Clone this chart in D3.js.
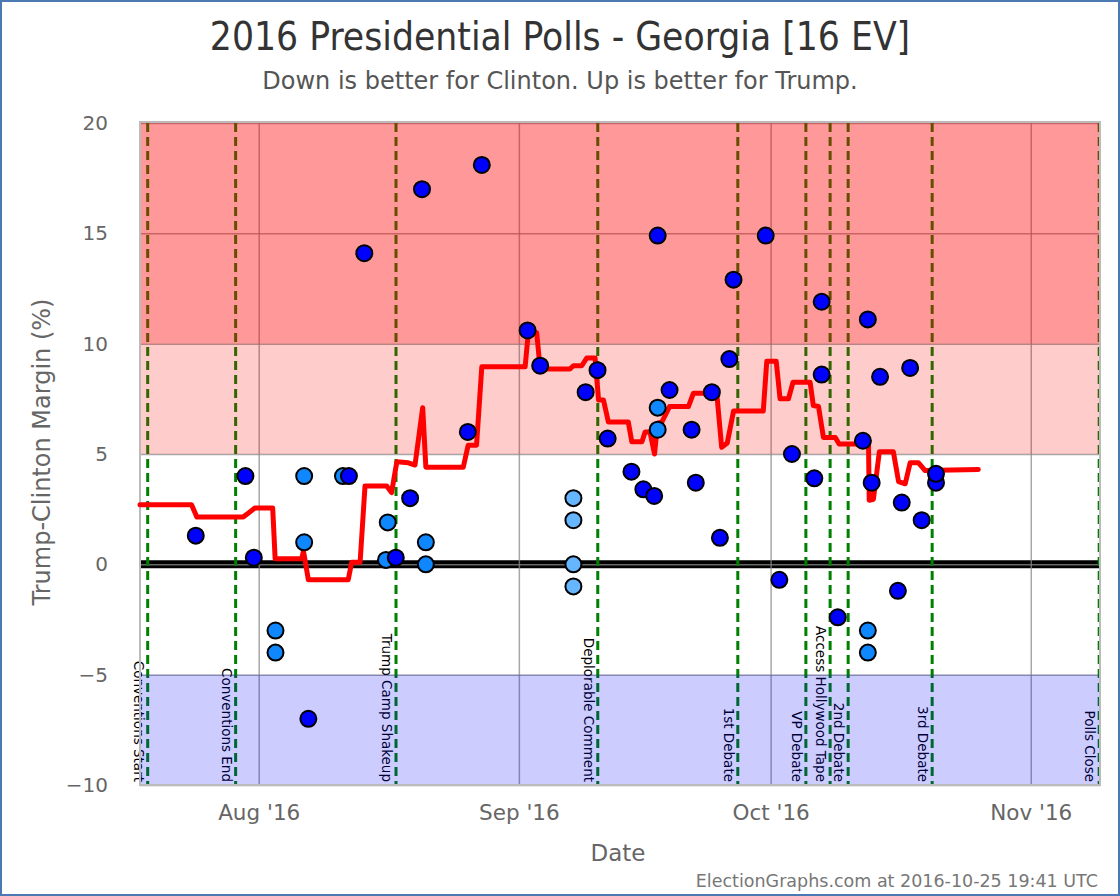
<!DOCTYPE html>
<html>
<head>
<meta charset="utf-8">
<script src="https://cdn.jsdelivr.net/npm/d3@7/dist/d3.min.js"></script>
<style>
  html, body { margin: 0; padding: 0; background: #fff; }
  svg text { font-family: "DejaVu Sans", sans-serif; }
  svg text.cond { font-family: "DejaVu Sans Condensed", "DejaVu Sans", sans-serif; font-stretch: condensed; }
</style>
</head>
<body>
<svg id="chart" width="1120" height="896"></svg>
<script>
// ---------------- DATA ----------------
const yTicks = [-10, -5, 0, 5, 10, 15, 20];
const xTickDates = ["2016-08-01T00:00Z", "2016-09-01T00:00Z", "2016-10-01T00:00Z", "2016-11-01T00:00Z"];
const xTickLabels = ["Aug '16", "Sep '16", "Oct '16", "Nov '16"];

const zoneLows  = [10, 5, -10];
const zoneHighs = [20, 10, -5];
const zoneNames = ["strongTrump", "weakTrump", "weakClinton"];

const eventNames = ["Conventions Start", "Conventions End", "Trump Camp Shakeup", "Deplorable Comment",
  "1st Debate", "VP Debate", "Access Hollywood Tape", "2nd Debate", "3rd Debate", "Polls Close"];
const eventDates = ["2016-07-18T18:30Z", "2016-07-29T06:00Z", "2016-08-17T08:40Z", "2016-09-10T09:40Z",
  "2016-09-27T02:10Z", "2016-10-05T04:50Z", "2016-10-08T02:10Z", "2016-10-10T05:45Z",
  "2016-10-20T06:00Z", "2016-11-09T03:40Z"];

const pollDates = [
  "2016-07-24T12:00Z", "2016-07-30T10:00Z", "2016-07-31T10:00Z", "2016-08-03T00:00Z", "2016-08-03T00:00Z",
  "2016-08-06T10:00Z", "2016-08-06T10:00Z", "2016-08-06T22:00Z", "2016-08-11T01:00Z", "2016-08-11T18:00Z",
  "2016-08-13T14:00Z", "2016-08-16T04:00Z", "2016-08-16T09:00Z", "2016-08-17T08:00Z", "2016-08-19T01:00Z",
  "2016-08-20T11:00Z", "2016-08-20T22:00Z", "2016-08-20T22:00Z", "2016-08-25T22:00Z", "2016-08-27T14:00Z",
  "2016-09-02T01:00Z", "2016-09-03T13:00Z", "2016-09-07T12:00Z", "2016-09-07T12:00Z", "2016-09-07T12:00Z",
  "2016-09-07T12:00Z", "2016-09-08T23:00Z", "2016-09-10T09:00Z", "2016-09-11T14:00Z", "2016-09-14T10:00Z",
  "2016-09-15T20:00Z", "2016-09-17T03:00Z", "2016-09-17T13:00Z", "2016-09-17T13:00Z", "2016-09-17T13:00Z",
  "2016-09-18T23:00Z", "2016-09-21T14:00Z", "2016-09-22T02:00Z", "2016-09-24T00:00Z", "2016-09-24T23:00Z",
  "2016-09-26T02:00Z", "2016-09-26T14:00Z", "2016-09-30T10:00Z", "2016-10-02T01:00Z", "2016-10-03T13:00Z",
  "2016-10-06T05:00Z", "2016-10-07T02:00Z", "2016-10-07T02:00Z", "2016-10-09T00:00Z", "2016-10-12T00:00Z",
  "2016-10-12T14:00Z", "2016-10-12T14:00Z", "2016-10-12T14:00Z", "2016-10-13T01:00Z", "2016-10-14T01:00Z",
  "2016-10-16T04:00Z", "2016-10-16T15:00Z", "2016-10-17T15:00Z", "2016-10-19T00:00Z", "2016-10-20T17:00Z",
  "2016-10-20T17:00Z"
];
const pollMargins = [
  1.3, 4.0, 0.3, -3, -4,
  4, 1, -7, 4, 4,
  14.1, 0.2, 1.9, 0.3, 3.0,
  17.0, 1.0, 0.0, 6.0, 18.1,
  10.6, 9.0, 3, 2, 0,
  -1, 7.8, 8.8, 5.7, 4.2,
  3.4, 3.1, 14.9, 7.1, 6.1,
  7.9, 6.1, 3.7, 7.8, 1.2,
  9.3, 12.9, 14.9, -0.7, 5.0,
  3.9, 11.9, 8.6, -2.4, 5.6,
  11.1, -3, -4, 3.7, 8.5,
  -1.2, 2.8, 8.9, 2.0, 3.7,
  4.1
];
// d = single poll, m = multi-candidate version, l = older/other variant
const pollKinds = [
  "d", "d", "d", "m", "m",
  "m", "m", "d", "m", "d",
  "d", "m", "m", "d", "d",
  "d", "m", "m", "d", "d",
  "d", "d", "l", "l", "l",
  "l", "d", "d", "d", "d",
  "d", "d", "d", "m", "m",
  "d", "d", "d", "d", "d",
  "d", "d", "d", "d", "d",
  "d", "d", "d", "d", "d",
  "d", "m", "m", "d", "d",
  "d", "d", "d", "d", "d",
  "d"
];

const avgDates = [
  "2016-07-17T20:30Z", "2016-07-24T00:00Z", "2016-07-24T15:00Z", "2016-07-30T04:00Z", "2016-07-30T17:00Z",
  "2016-07-31T13:00Z", "2016-08-02T16:00Z", "2016-08-02T23:00Z", "2016-08-06T03:00Z", "2016-08-06T08:00Z",
  "2016-08-06T22:00Z", "2016-08-11T16:00Z", "2016-08-12T02:00Z", "2016-08-13T02:00Z", "2016-08-13T16:00Z",
  "2016-08-16T06:00Z", "2016-08-16T20:00Z", "2016-08-17T11:00Z", "2016-08-18T20:00Z", "2016-08-19T15:00Z",
  "2016-08-20T13:00Z", "2016-08-20T22:00Z", "2016-08-25T09:00Z", "2016-08-25T23:00Z", "2016-08-26T23:00Z",
  "2016-08-27T14:00Z", "2016-09-01T18:00Z", "2016-09-02T03:00Z", "2016-09-03T03:00Z", "2016-09-03T13:00Z",
  "2016-09-07T02:00Z", "2016-09-07T12:00Z", "2016-09-08T12:00Z", "2016-09-09T02:00Z", "2016-09-10T02:00Z",
  "2016-09-10T12:00Z", "2016-09-11T02:00Z", "2016-09-11T16:00Z", "2016-09-14T01:00Z", "2016-09-14T11:00Z",
  "2016-09-15T16:00Z", "2016-09-16T01:00Z", "2016-09-16T15:00Z", "2016-09-17T04:00Z", "2016-09-17T13:00Z",
  "2016-09-18T01:00Z", "2016-09-18T23:00Z", "2016-09-21T05:00Z", "2016-09-21T19:00Z", "2016-09-24T14:00Z",
  "2016-09-25T04:00Z", "2016-09-25T20:00Z", "2016-09-26T14:00Z", "2016-09-30T03:00Z", "2016-09-30T13:00Z",
  "2016-10-01T16:00Z", "2016-10-02T03:00Z", "2016-10-03T03:00Z", "2016-10-03T16:00Z", "2016-10-05T17:00Z",
  "2016-10-06T02:00Z", "2016-10-06T17:00Z", "2016-10-07T07:00Z", "2016-10-08T17:00Z", "2016-10-09T04:00Z",
  "2016-10-12T16:00Z", "2016-10-12T18:00Z", "2016-10-13T06:00Z", "2016-10-13T23:00Z", "2016-10-15T15:00Z",
  "2016-10-16T06:00Z", "2016-10-17T01:00Z", "2016-10-17T15:00Z", "2016-10-18T15:00Z", "2016-10-19T10:00Z",
  "2016-10-25T18:00Z"
];
const avgMargins = [
  2.7, 2.7, 2.15, 2.15, 2.3,
  2.55, 2.55, 0.25, 0.25, 0.6,
  -0.7, -0.7, 0.1, 0.1, 3.55,
  3.55, 3.25, 4.65, 4.6, 4.5,
  7.1, 4.4, 4.4, 5.4, 5.4,
  8.95, 8.95, 10.5, 10.5, 8.85,
  8.85, 9.0, 9.0, 9.35, 9.35,
  7.45, 7.45, 6.45, 6.45, 5.55,
  5.55, 6.0, 6.0, 5.0, 6.4,
  6.45, 7.15, 7.15, 7.75, 7.75,
  5.3, 5.5, 6.95, 6.95, 9.2,
  9.2, 7.5, 7.5, 8.25, 8.25,
  7.2, 7.15, 5.75, 5.75, 5.45,
  5.45, 2.9, 2.95, 5.1, 5.1,
  3.75, 3.65, 4.6, 4.6, 4.25,
  4.3
];

// ---------------- DRAW ----------------
const svg = d3.select("#chart");
const W = 1120, H = 896;
const plot = { left: 140, right: 1100, top: 123, bottom: 785 };

const x = d3.scaleUtc()
  .domain([new Date("2016-07-17T20:30Z"), new Date("2016-11-09T06:00Z")])
  .range([plot.left, plot.right]);
const y = d3.scaleLinear().domain([-10, 20]).range([plot.bottom, plot.top]);

const zoneFill = { strongTrump: "rgba(255,0,0,0.4)", weakTrump: "rgba(255,0,0,0.2)", weakClinton: "rgba(0,0,255,0.2)" };
const pollFill = { d: "#0000ff", m: "#0f87ff", l: "#66b5ff" };

// outer border
svg.append("rect").attr("x", 1).attr("y", 1).attr("width", W - 2).attr("height", H - 2)
  .attr("fill", "#fff").attr("stroke", "#4b79b1").attr("stroke-width", 2);

// title and subtitle
svg.append("text").attr("class", "cond").attr("x", 560).attr("y", 50).attr("text-anchor", "middle")
  .attr("font-size", 38.6).attr("fill", "#333").text("2016 Presidential Polls - Georgia [16 EV]");
svg.append("text").attr("x", 560).attr("y", 89).attr("text-anchor", "middle")
  .attr("font-size", 24).attr("fill", "#555").text("Down is better for Clinton. Up is better for Trump.");

// zero line
svg.append("line").attr("x1", plot.left).attr("x2", plot.right).attr("y1", y(0)).attr("y2", y(0))
  .attr("stroke", "#000").attr("stroke-width", 8);

// gridlines
const gy = d3.axisLeft(y).tickValues(yTicks).tickSize(-(plot.right - plot.left)).tickFormat("");
svg.append("g").attr("transform", `translate(${plot.left},0)`).call(gy)
  .call(g => g.select(".domain").remove())
  .call(g => g.selectAll("line").attr("stroke", "#8a8a8a").attr("stroke-width", 1.5).attr("opacity", 0.75));
const gx = d3.axisBottom(x).tickValues(xTickDates.map(d => new Date(d))).tickSize(-(plot.bottom - plot.top)).tickFormat("");
svg.append("g").attr("transform", `translate(0,${plot.bottom})`).call(gx)
  .call(g => g.select(".domain").remove())
  .call(g => g.selectAll("line").attr("stroke", "#8a8a8a").attr("stroke-width", 1.5).attr("opacity", 0.75));

// event lines and labels
const events = eventNames.map((n, i) => ({ name: n, date: new Date(eventDates[i]) }));
svg.append("g").selectAll("line").data(events).join("line")
  .attr("x1", d => x(d.date)).attr("x2", d => x(d.date))
  .attr("y1", plot.top).attr("y2", plot.bottom)
  .attr("stroke", "#008000").attr("stroke-width", 3).attr("stroke-dasharray", "9,5");
svg.append("g").selectAll("text").data(events).join("text")
  .attr("transform", d => `translate(${x(d.date) - 14},${plot.bottom - 3}) rotate(90)`)
  .attr("text-anchor", "end").attr("font-size", 13.5).attr("fill", "#000")
  .text(d => d.name);

// zones (translucent, on top of grid/events)
const zones = zoneNames.map((n, i) => ({ name: n, lo: zoneLows[i], hi: zoneHighs[i] }));
svg.append("g").selectAll("rect").data(zones).join("rect")
  .attr("x", plot.left).attr("width", plot.right - plot.left)
  .attr("y", d => y(d.hi)).attr("height", d => y(d.lo) - y(d.hi))
  .attr("fill", d => zoneFill[d.name]);

// plot frame
svg.append("rect").attr("x", plot.left).attr("y", plot.top - 1).attr("width", plot.right - plot.left)
  .attr("height", plot.bottom - plot.top + 1).attr("fill", "none").attr("stroke", "#bbbbbb").attr("stroke-width", 2);

// average line
const avg = avgDates.map((d, i) => ({ date: new Date(d), v: avgMargins[i] }));
svg.append("path").datum(avg)
  .attr("d", d3.line().x(d => x(d.date)).y(d => y(d.v)))
  .attr("fill", "none").attr("stroke", "#ff0000").attr("stroke-width", 5)
  .attr("stroke-linejoin", "round").attr("stroke-linecap", "round");

// polls
const polls = pollDates.map((d, i) => ({ date: new Date(d), v: pollMargins[i], k: pollKinds[i] }));
svg.append("g").selectAll("circle").data(polls).join("circle")
  .attr("cx", d => x(d.date)).attr("cy", d => y(d.v)).attr("r", 8)
  .attr("fill", d => pollFill[d.k]).attr("stroke", "#000").attr("stroke-width", 2);

// y axis labels
const ay = d3.axisLeft(y).tickValues(yTicks).tickSize(0).tickPadding(0);
svg.append("g").attr("transform", `translate(108,0)`).call(ay)
  .call(g => g.select(".domain").remove())
  .call(g => g.selectAll("text").attr("font-size", 20).attr("fill", "#666")
    .attr("font-family", null));

// x axis labels
const ax = d3.axisBottom(x).tickValues(xTickDates.map(d => new Date(d))).tickSize(0).tickPadding(0)
  .tickFormat((d, i) => xTickLabels[i]);
svg.append("g").attr("transform", `translate(0,805)`).call(ax)
  .call(g => g.select(".domain").remove())
  .call(g => g.selectAll("text").attr("font-size", 21.5).attr("fill", "#666").attr("font-family", null));

// axis titles
svg.append("text").attr("x", 618).attr("y", 861).attr("text-anchor", "middle")
  .attr("font-size", 23).attr("fill", "#666").text("Date");
svg.append("text").attr("transform", "translate(50,452) rotate(-90)").attr("text-anchor", "middle")
  .attr("font-size", 24).attr("fill", "#666").text("Trump-Clinton Margin (%)");

// footer
svg.append("text").attr("x", 1098).attr("y", 887).attr("text-anchor", "end")
  .attr("font-size", 17.5).attr("fill", "#777").text("ElectionGraphs.com at 2016-10-25 19:41 UTC");
</script>
</body>
</html>
